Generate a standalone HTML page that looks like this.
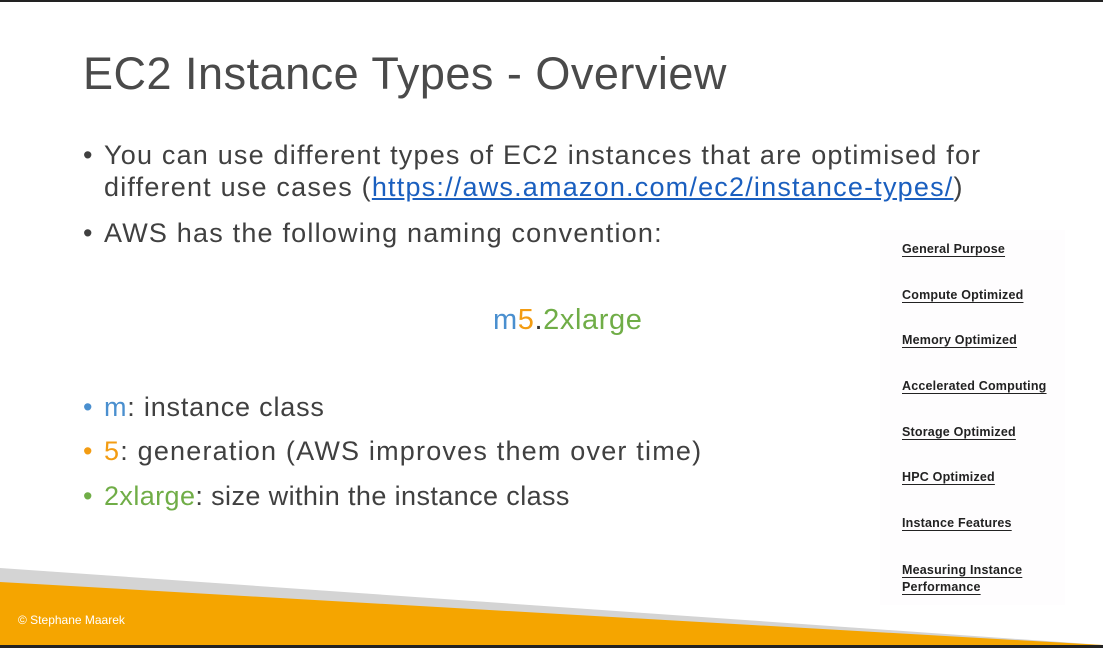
<!DOCTYPE html>
<html><head><style>
body{margin:0;width:1103px;height:648px;overflow:hidden;background:#fff;position:relative;font-family:"Liberation Sans",sans-serif;color:#404040}
.a{position:absolute;white-space:nowrap}
.t{left:83px;top:48px;font-size:45px;color:#4a4a4a;letter-spacing:0.5px}
.b{font-size:27px;left:83px;letter-spacing:1.2px}
.b span.d{position:absolute;left:0}
.b .x{margin-left:21px}
.r{left:902px;font-size:12.5px;font-weight:bold;color:#222;text-decoration:underline;text-underline-offset:3px;letter-spacing:0.2px}
a{color:#1a5fbf}
</style></head><body>
<div class="a" style="left:0;top:0;width:1103px;height:2px;background:#222"></div>
<div class="a t">EC2 Instance Types - Overview</div>
<div class="a b" style="top:140px"><span class="d">•</span><span class="x">You can use different types of EC2 instances that are optimised for</span></div>
<div class="a b" style="top:172px;left:104px">different use cases (<a style="text-decoration:underline">https://aws.amazon.com/ec2/instance-types/</a>)</div>
<div class="a b" style="top:218px"><span class="d">•</span><span class="x">AWS has the following naming convention:</span></div>
<div class="a" style="left:493px;top:304px;font-size:29px;letter-spacing:0.6px"><span style="color:#4a8fcf">m</span><span style="color:#f39c12">5</span><span style="color:#333">.</span><span style="color:#70ad47">2xlarge</span></div>
<div class="a b" style="top:392px;letter-spacing:0.8px"><span class="d" style="color:#4a8fcf">•</span><span class="x"><span style="color:#4a8fcf">m</span>: instance class</span></div>
<div class="a b" style="top:436px"><span class="d" style="color:#f39c12">•</span><span class="x"><span style="color:#f39c12">5</span>: generation (AWS improves them over time)</span></div>
<div class="a b" style="top:481px;letter-spacing:0.4px"><span class="d" style="color:#70ad47">•</span><span class="x"><span style="color:#70ad47">2xlarge</span>: size within the instance class</span></div>
<div class="a" style="left:880px;top:230px;width:185px;height:375px;background:#fefdfe"></div>
<div class="a r" style="top:242px">General Purpose</div>
<div class="a r" style="top:288px">Compute Optimized</div>
<div class="a r" style="top:333px">Memory Optimized</div>
<div class="a r" style="top:379px">Accelerated Computing</div>
<div class="a r" style="top:425px">Storage Optimized</div>
<div class="a r" style="top:470px">HPC Optimized</div>
<div class="a r" style="top:516px">Instance Features</div>
<div class="a r" style="top:562px;line-height:17px">Measuring Instance<br>Performance</div>
<svg class="a" style="left:0;top:0" width="1103" height="648">
<polygon points="0,568 1103,645 0,645" fill="#d4d4d4"/>
<polygon points="0,582 1103,645 0,645" fill="#f5a500"/>
<rect x="0" y="645" width="1103" height="3" fill="#222"/>
</svg>
<div class="a" style="left:18px;top:613px;font-size:12px;color:#fff">© Stephane Maarek</div>
</body></html>
